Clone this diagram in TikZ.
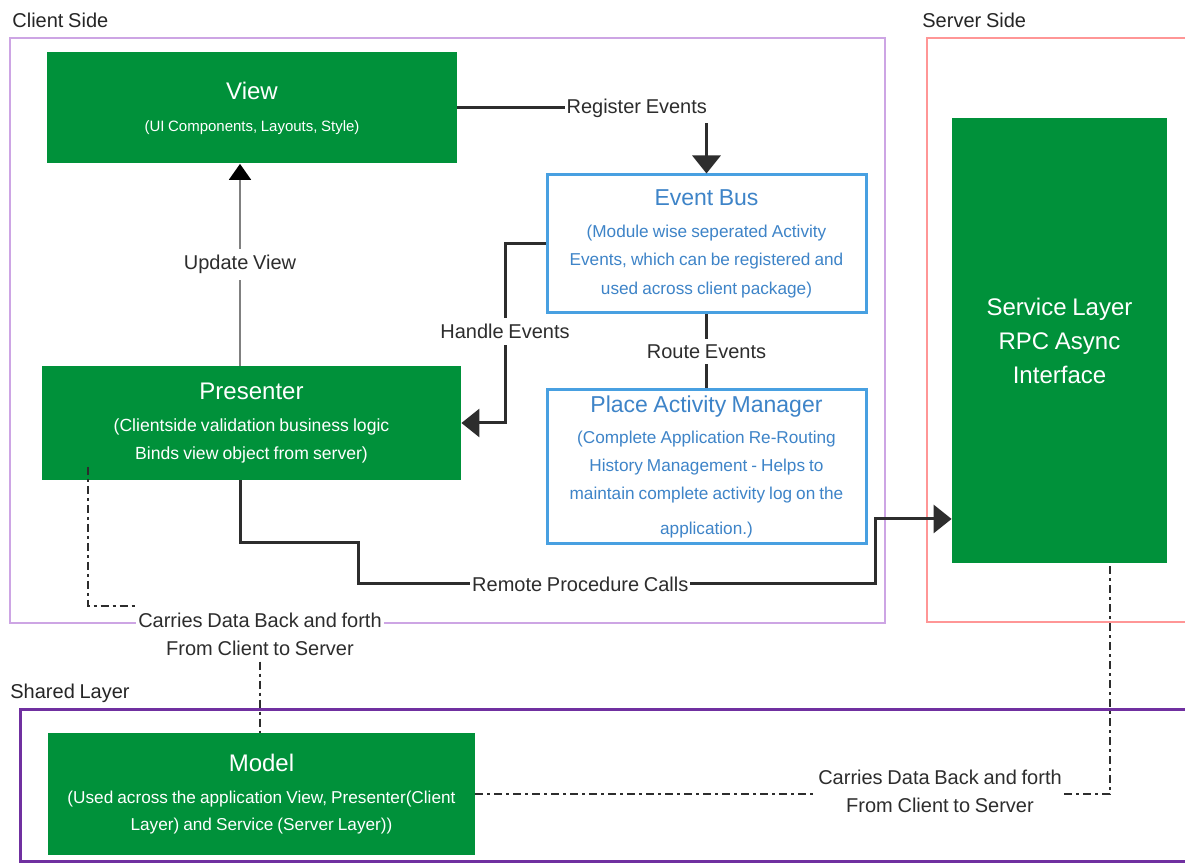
\documentclass[tikz,border=0pt]{standalone}
\usepackage{fontspec}
\setmainfont{Liberation Sans}[WordSpace=0.85]
\usetikzlibrary{arrows.meta,calc}

\definecolor{mvpgreen}{RGB}{0,145,58}
\definecolor{busblue}{RGB}{72,160,225}
\definecolor{bustitle}{RGB}{62,132,200}
\definecolor{bustext}{RGB}{80,150,212}
\definecolor{clientline}{RGB}{205,165,228}
\definecolor{serverline}{RGB}{255,150,150}
\definecolor{sharedline}{RGB}{112,48,160}
\definecolor{ink}{RGB}{45,45,45}

\begin{document}
\begin{tikzpicture}[x=0.5pt,y=-0.5pt,
  greenbox/.style={fill=mvpgreen, draw=none, text=white, align=flush center, inner sep=0pt},
  bluebox/.style={draw=busblue, line width=1.5pt, fill=white, text=bustext, align=flush center, inner sep=0pt},
  lbl/.style={fill=white, text=ink, font=\fontsize{10}{14}\selectfont, inner xsep=1pt, inner ysep=3pt, align=center},
  grouplbl/.style={anchor=west, font=\fontsize{10}{12}\selectfont, text=black!85, inner sep=0pt},
  conn/.style={draw=ink, line width=1.5pt},
  bigtip/.style={-{Triangle[length=9pt,width=14pt]}},
  ddash/.style={draw=ink, line width=1.2pt, dash pattern=on 4pt off 2pt on 1.5pt off 2pt}
]
\useasboundingbox (0,0) rectangle (1185,865);
\clip (0,0) rectangle (1185,865);
\fill[white] (0,0) rectangle (1185,865);

% group frames
\draw[clientline, line width=1pt] (10,38) rectangle (885,623);
\draw[serverline, line width=1pt] (927,38) rectangle (1200,622);
\draw[sharedline, line width=1.5pt] (20,710) rectangle (1200,862);

\node[grouplbl] (clientlbl) at (12,20) {Client Side};
\node[grouplbl] (serverlbl) at (922,20) {Server Side};
\node[grouplbl] (sharedlbl) at (10,693) {Shared Layer};

% components
\node[greenbox, minimum width=205pt, minimum height=55.5pt, text width=200pt] (view) at (252,108)
  {\fontsize{12}{14}\selectfont View\par\vspace{2pt}
   \fontsize{7.5}{14}\selectfont (UI Components, Layouts, Style)\par};

\node[greenbox, minimum width=209.5pt, minimum height=57pt, text width=200pt] (presenter) at (251.5,423)
  {\fontsize{12}{14}\selectfont Presenter\par\vspace{2pt}
   \fontsize{8.8}{14}\selectfont (Clientside validation business logic\\
   Binds view object from server)\par};

\node[bluebox, minimum width=159.5pt, minimum height=69pt, text width=155pt] (eb) at (706.5,244)
  {\fontsize{11.5}{14}\selectfont\color{bustitle}Event Bus\par\vspace{1.5pt}
   \fontsize{8.6}{14.25}\selectfont (Module wise seperated Activity\\
   Events, which can be registered and\\
   used across client package)\par};

\node[bluebox, minimum width=159.5pt, minimum height=77pt, text width=155pt] (pam) at (706.5,467)
  {\fontsize{11.5}{14}\selectfont\color{bustitle}Place Activity Manager\par\vspace{1.5pt}
   \fontsize{8.6}{14}\selectfont (Complete Application Re-Routing\\
   History Management - Helps to\\
   maintain complete activity log on the\\[3.5pt]
   application.)\par};

\node[greenbox, minimum width=107.5pt, minimum height=222.5pt, text width=100pt] (service) at (1059.5,340.5)
  {\fontsize{12}{17}\selectfont Service Layer\\ RPC Async\\ Interface\par};

\node[greenbox, minimum width=213.5pt, minimum height=61pt, text width=208pt] (model) at (261.5,794)
  {\fontsize{12}{14}\selectfont Model\par\vspace{2.5pt}
   \fontsize{8.6}{13.5}\selectfont (Used across the application View, Presenter(Client\\
   Layer) and Service (Server Layer))\par};

% routing points
\coordinate (uvx) at (240,0);
\coordinate (hx) at (505,423);
\coordinate (r1) at (240,543);
\coordinate (r2) at (358,543);
\coordinate (r3) at (358,584);
\coordinate (r4) at (875,584);
\coordinate (r5) at (875,519);
\coordinate (dx) at (88,467);
\coordinate (sx) at (1110,0);

% data-carrier labels
\node[lbl] (cds1) at (260,634) {Carries Data Back and forth\\From Client to Server};
\node[lbl] (cds2) at (940,791) {Carries Data Back and forth\\From Client to Server};

% connectors
\draw[draw=black!50, line width=1pt, -{Triangle[length=8pt,width=11pt,color=black]}]
  (presenter.north -| uvx) -- (view.south -| uvx) node[lbl, midway] {Update View};

\draw[conn, bigtip] (view.east) -| (eb.north) node[lbl, pos=0.36] {Register Events};

\draw[conn, bigtip] (eb.west) -| (hx) node[lbl, pos=0.745] {Handle Events} -- (presenter.east);

\draw[conn] (eb.south) -- (pam.north) node[lbl, midway] {Route Events};

\draw[conn, bigtip] (presenter.south -| uvx) -- (r1) -- (r2) -- (r3)
  -- node[lbl, pos=0.43] {Remote Procedure Calls} (r4) -- (r5) -- (service.west |- r5);

\draw[ddash] (dx) |- (cds1.north west);
\draw[ddash] (cds1.south) -- (cds1.south |- model.north);

\draw[ddash] (model.east) -- (model.east -| cds2.west);
\draw[ddash] (cds2.east |- model.east) -| (service.south -| sx);
\end{tikzpicture}
\end{document}
